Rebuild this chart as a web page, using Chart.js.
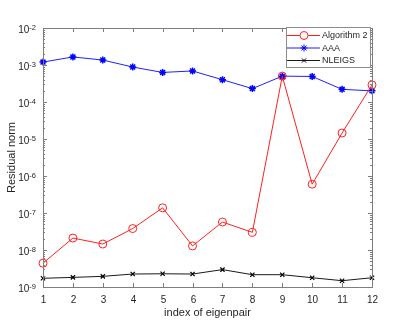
<!DOCTYPE html>
<html>
<head>
<meta charset="utf-8">
<script src="https://cdn.jsdelivr.net/npm/chart.js@4/dist/chart.umd.min.js"></script>
<style>
  html, body { margin: 0; padding: 0; background: #fff; }
  #wrap { width: 399px; height: 326px; position: relative; }
</style>
</head>
<body>
<div id="wrap"><canvas id="chart" width="399" height="326"></canvas></div>
<script>
// 特征对编号
const indices = [1, 2, 3, 4, 5, 6, 7, 8, 9, 10, 11, 12];

// 各算法的残差范数
const alg2Values = [4.4e-9, 2.1e-8, 1.45e-8, 3.8e-8, 1.38e-7, 1.29e-8, 5.7e-8, 3.0e-8, 5.0e-4, 6.0e-7, 1.45e-5, 2.9e-4];
const aaaValues = [1.2e-3, 1.65e-3, 1.36e-3, 8.8e-4, 6.3e-4, 6.9e-4, 4.0e-4, 2.3e-4, 5.0e-4, 4.9e-4, 2.2e-4, 2.0e-4];
const nleigsValues = [1.72e-9, 1.82e-9, 1.94e-9, 2.24e-9, 2.28e-9, 2.24e-9, 2.95e-9, 2.15e-9, 2.15e-9, 1.78e-9, 1.48e-9, 1.78e-9];

// y轴刻度（指数）
const yExponents = [-9, -8, -7, -6, -5, -4, -3, -2];

const FONT = 'Liberation Sans, Arial, sans-serif';
const AXIS_COLOR = '#7d7d7d';
const TEXT_COLOR = '#262626';

function toPoints(values) {
    return indices.map((x, i) => ({ x: x, y: values[i] }));
}

// 坐标框、刻度、标签和图例
const matlabAxes = {
    id: 'matlabAxes',
    afterDatasetsDraw(chart) {
        const ctx = chart.ctx;
        const area = chart.chartArea;
        const xs = chart.scales.x;
        const ys = chart.scales.y;
        ctx.save();

        // 坐标框
        ctx.strokeStyle = AXIS_COLOR;
        ctx.lineWidth = 1;
        ctx.strokeRect(area.left + 0.5, area.top + 0.5, area.right - area.left, area.bottom - area.top);

        // x轴刻度
        ctx.fillStyle = TEXT_COLOR;
        ctx.font = '10px ' + FONT;
        ctx.textAlign = 'center';
        ctx.textBaseline = 'alphabetic';
        indices.forEach(v => {
            const px = Math.round(xs.getPixelForValue(v)) + 0.5;
            ctx.beginPath();
            ctx.moveTo(px, area.bottom);
            ctx.lineTo(px, area.bottom - 4);
            ctx.moveTo(px, area.top);
            ctx.lineTo(px, area.top + 4);
            ctx.stroke();
            ctx.fillText(String(v), px, area.bottom + 16);
        });

        // y轴刻度（含次刻度）
        yExponents.forEach(e => {
            const py = Math.round(ys.getPixelForValue(Math.pow(10, e))) + 0.5;
            ctx.beginPath();
            ctx.moveTo(area.left, py);
            ctx.lineTo(area.left + 4, py);
            ctx.moveTo(area.right, py);
            ctx.lineTo(area.right - 4, py);
            ctx.stroke();
            if (e < -2) {
                for (let k = 2; k <= 9; k++) {
                    const my = Math.round(ys.getPixelForValue(k * Math.pow(10, e))) + 0.5;
                    ctx.beginPath();
                    ctx.moveTo(area.left, my);
                    ctx.lineTo(area.left + 2, my);
                    ctx.moveTo(area.right, my);
                    ctx.lineTo(area.right - 2, my);
                    ctx.stroke();
                }
            }
            // 标签 10^e
            ctx.textAlign = 'right';
            ctx.textBaseline = 'alphabetic';
            ctx.font = '7.5px ' + FONT;
            const expText = String(e);
            const expW = ctx.measureText(expText).width;
            ctx.fillText(expText, area.left - 7, py + 1);
            ctx.font = '10px ' + FONT;
            ctx.fillText('10', area.left - 7 - expW, py + 4);
        });

        // 轴标题
        ctx.font = '11px ' + FONT;
        ctx.textAlign = 'center';
        ctx.textBaseline = 'alphabetic';
        ctx.fillText('index of eigenpair', (area.left + area.right) / 2, 316);
        ctx.save();
        ctx.translate(15, (area.top + area.bottom) / 2);
        ctx.rotate(-Math.PI / 2);
        ctx.fillText('Residual norm', 0, 0);
        ctx.restore();

        // 图例
        const lx = 286, ly = 27, lw = 84, lh = 40;
        ctx.fillStyle = '#fff';
        ctx.fillRect(lx, ly, lw, lh);
        ctx.strokeStyle = '#8c8c8c';
        ctx.strokeRect(lx + 0.5, ly + 0.5, lw, lh);
        chart.data.datasets.forEach((ds, i) => {
            const y = ly + 8.5 + i * 12.5;
            ctx.strokeStyle = ds.borderColor;
            ctx.lineWidth = 1;
            ctx.beginPath();
            ctx.moveTo(lx + 1, y);
            ctx.lineTo(lx + 34, y);
            ctx.stroke();
            ctx.strokeStyle = ds.pointBorderColor;
            Chart.helpers.drawPoint(ctx, {
                pointStyle: ds.pointStyle,
                radius: ds.pointRadius,
                rotation: 0,
                borderWidth: ds.pointBorderWidth
            }, lx + 18, y);
            ctx.fillStyle = TEXT_COLOR;
            ctx.font = '9px ' + FONT;
            ctx.textAlign = 'left';
            ctx.textBaseline = 'middle';
            ctx.fillText(ds.label, lx + 36, y + 0.5);
        });

        ctx.restore();
    }
};

const ctx = document.getElementById('chart').getContext('2d');
new Chart(ctx, {
    type: 'line',
    data: {
        datasets: [
            {
                label: 'Algorithm 2',
                data: toPoints(alg2Values),
                borderColor: '#ff2020',
                backgroundColor: 'rgba(0,0,0,0)',
                pointBorderColor: '#ff2020',
                pointBackgroundColor: 'rgba(0,0,0,0)',
                borderWidth: 1,
                pointStyle: 'circle',
                pointRadius: 4,
                pointBorderWidth: 1,
                tension: 0
            },
            {
                label: 'AAA',
                data: toPoints(aaaValues),
                borderColor: '#1f1fff',
                backgroundColor: 'rgba(0,0,0,0)',
                pointBorderColor: '#0000ff',
                borderWidth: 1,
                pointStyle: 'star',
                pointRadius: 3.5,
                pointBorderWidth: 1.5,
                tension: 0
            },
            {
                label: 'NLEIGS',
                data: toPoints(nleigsValues),
                borderColor: '#1a1a1a',
                backgroundColor: 'rgba(0,0,0,0)',
                pointBorderColor: '#000',
                borderWidth: 1,
                pointStyle: 'crossRot',
                pointRadius: 3,
                pointBorderWidth: 1.2,
                tension: 0
            }
        ]
    },
    options: {
        responsive: false,
        animation: false,
        devicePixelRatio: 1,
        clip: false,
        layout: { padding: { top: 28, right: 27, left: 0, bottom: 0 } },
        scales: {
            x: {
                type: 'linear',
                min: 1,
                max: 12,
                grid: { display: false },
                border: { display: false },
                ticks: { display: false },
                afterFit: s => { s.height = 39; }
            },
            y: {
                type: 'logarithmic',
                min: 1e-9,
                max: 1e-2,
                grid: { display: false },
                border: { display: false },
                ticks: { display: false },
                afterFit: s => { s.width = 43; }
            }
        },
        plugins: {
            legend: { display: false },
            tooltip: { enabled: false }
        }
    },
    plugins: [matlabAxes]
});
</script>
</body>
</html>
